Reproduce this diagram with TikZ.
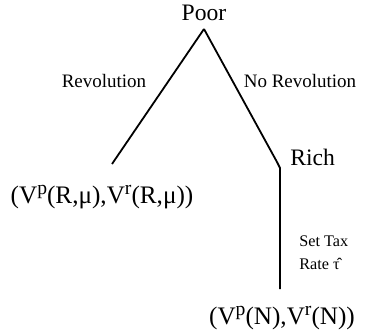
\documentclass[tikz,border=0pt]{standalone}
\usepackage{fontspec}
\setmainfont{Liberation Serif}
\usetikzlibrary{positioning,calc}
\newcommand{\supx}[1]{\raisebox{0.32em}{\fontsize{9.8}{10}\selectfont #1}}

\begin{document}
\begin{tikzpicture}[x=0.5pt,y=0.5pt,
  player/.style={font=\fontsize{11.8}{14}\selectfont,inner sep=0pt},
  payoff/.style={font=\fontsize{12.6}{14}\selectfont,inner sep=0pt},
  act/.style={font=\fontsize{9.5}{11}\selectfont,inner sep=0pt},
  branch/.style={line width=0.9pt}]
\useasboundingbox (0,0) rectangle (366,334);
\node[player] (poor) at (204,321) {Poor};
\coordinate (apex) at (204,305);
\coordinate (rev) at (112,170);
\coordinate (bend) at (277,172);
\coordinate (richpt) at (280,166);
\coordinate (nend) at (280,45);
\node[player,anchor=west] (rich) at (290,177) {Rich};
\node[payoff] (rout) at (102,137) {(V\supx{p}(R,μ),V\supx{r}(R,μ))};
\node[payoff] (nout) at (282,16) {(V\supx{p}(N),V\supx{r}(N))};
\node[act] (revlbl) at (104,253) {Revolution};
\node[act] (norevlbl) at (300,253) {No Revolution};
\node[act,anchor=west,align=left,font=\fontsize{8.1}{11.6}\selectfont] (tax) at (299,81) {Set Tax\\Rate \^{τ}};
\draw[branch] (apex) -- (rev);
\draw[branch] (apex) -- (bend) -- (richpt) -- (nend);
\end{tikzpicture}
\end{document}
